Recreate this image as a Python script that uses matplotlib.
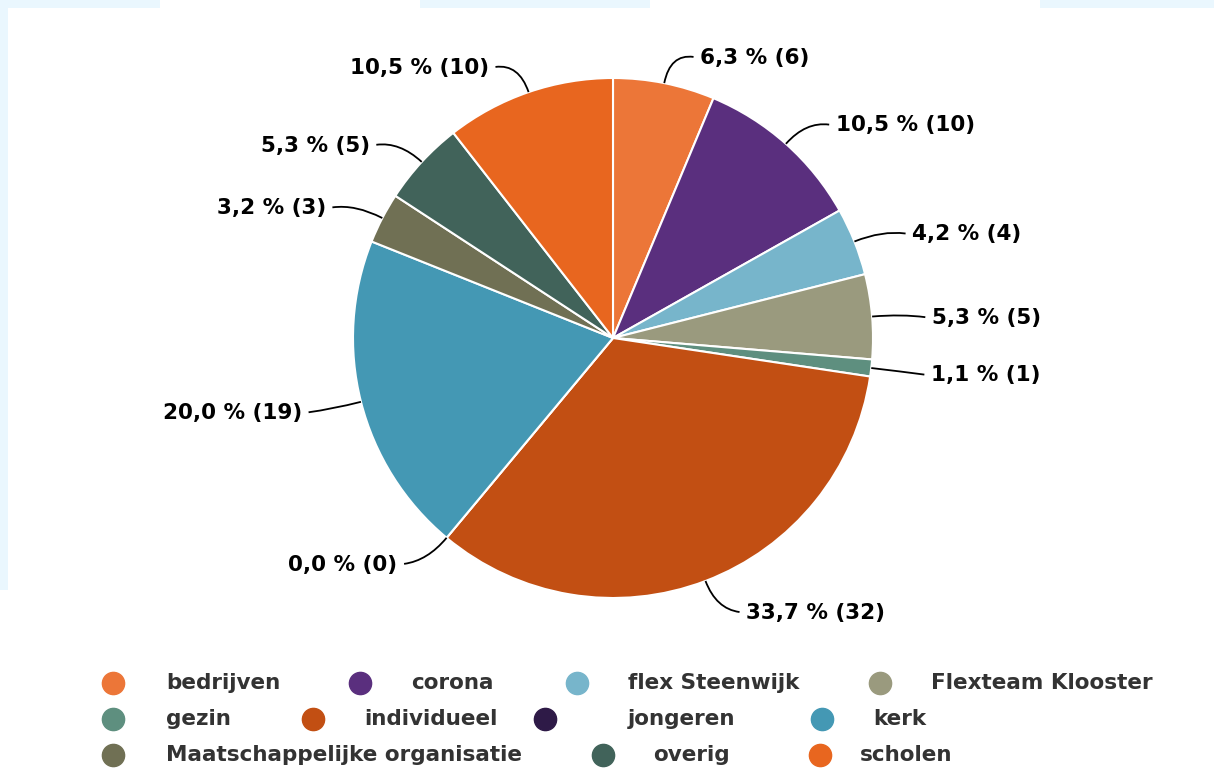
import numpy as np
import matplotlib.pyplot as plt
from matplotlib.path import Path
from matplotlib.patches import PathPatch, Rectangle

categories = ['bedrijven', 'corona', 'flex Steenwijk', 'Flexteam Klooster', 'gezin',
              'individueel', 'jongeren', 'kerk', 'Maatschappelijke organisatie',
              'overig', 'scholen']
counts = [6, 10, 4, 5, 1, 32, 0, 19, 3, 5, 10]
colors = ['#EC7638', '#5A2F7E', '#77B5CB', '#9A9A7E', '#5E8F7F', '#C24F13',
          '#2E1A47', '#4498B4', '#707054', '#41635A', '#E8661F']

W, H = 1214, 769
CX, CY, R = 613, 338, 260  # pie centre / radius in pixels


def px(x, y):
    # pixel position -> data coords (pie radius = 1)
    return (x - CX) / R, (CY - y) / R


fig = plt.figure(figsize=(W / 100, H / 100), dpi=100)
ax = fig.add_axes([0, 0, 1, 1])

wedges, _ = ax.pie(counts, colors=colors, startangle=90, counterclock=False, radius=1,
                   wedgeprops=dict(edgecolor='white', linewidth=1.5))

ax.set_xlim(-CX / R, (W - CX) / R)
ax.set_ylim(-(H - CY) / R, CY / R)
ax.set_aspect('equal')
ax.axis('off')

# light blue screenshot border bits
for x0, y0, w, h in [(0, 0, 8, 590), (0, 0, 160, 8), (420, 0, 230, 8), (1040, 0, 174, 8)]:
    xa, ya = px(x0, y0 + h)
    ax.add_patch(Rectangle((xa, ya), w / R, h / R, color='#EAF7FE', lw=0, zorder=0))

total = sum(counts)
for w, v in zip(wedges, counts):
    mid = np.deg2rad((w.theta1 + w.theta2) / 2)
    c, s = np.cos(mid), np.sin(mid)
    side = 1 if c >= 0 else -1
    p0 = (c * 1.0, s * 1.0)
    p1 = (c * 1.115, s * 1.115)
    p2 = (p1[0] + side * 0.09, p1[1] - 0.012)
    path = Path([p0, p1, p2], [Path.MOVETO, Path.CURVE3, Path.CURVE3])
    ax.add_patch(PathPatch(path, fill=False, edgecolor='black', lw=1.3))
    pct = f"{100 * v / total:.1f}".replace('.', ',')
    ax.text(p1[0] + side * 0.115, p1[1] - 0.015, f"{pct} % ({v})",
            ha='left' if side > 0 else 'right', va='center',
            fontsize=15.5, fontweight='bold', color='black')

# legend, laid out like the original (marker x, text x, row y in pixels)
legend_pos = [(113, 166, 683), (360, 411, 683), (577, 628, 683), (880, 931, 683),
              (113, 166, 719), (313, 364, 719), (545, 628, 719), (822, 873, 719),
              (113, 166, 755), (603, 653, 755), (820, 860, 755)]
for (mx, tx, ty), name, col in zip(legend_pos, categories, colors):
    ax.plot(*px(mx, ty), 'o', ms=16, color=col, clip_on=False)
    ax.text(*px(tx, ty), name, ha='left', va='center', fontsize=15.5,
            fontweight='bold', color='#333333')

fig.savefig('out.png', dpi=100, facecolor='white')
